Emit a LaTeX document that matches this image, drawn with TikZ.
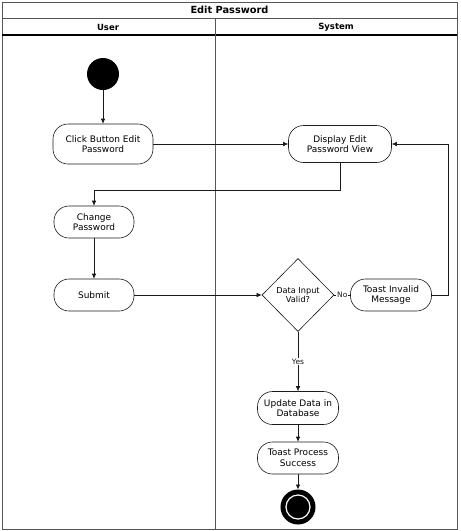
\documentclass[tikz,border=0pt]{standalone}
\usepackage{fontspec}
\setmainfont{DejaVu Sans}
\usetikzlibrary{arrows.meta, positioning, shapes.geometric}
\definecolor{uline}{HTML}{1A1A1A}
\definecolor{uframe}{HTML}{555555}
\tikzset{
  actbox/.style={draw=uline, fill=white, rounded corners=15pt, align=center,
                 font=\fontsize{9}{10.5}\selectfont, inner sep=1pt, line width=0.6pt},
  decision/.style={draw=uline, fill=white, diamond, aspect=1, align=center,
                   font=\fontsize{8.2}{9.5}\selectfont, inner sep=0pt, line width=0.6pt},
  startnode/.style={circle, fill=black, minimum size=32pt, inner sep=0pt},
  endnode/.style={circle, draw=black, fill=black, line width=2pt, minimum size=33pt, inner sep=0pt,
                  path picture={\draw[white, line width=1.2pt] (path picture bounding box.center) circle (12pt);}},
  titlehead/.style={font=\fontsize{9.8}{11}\selectfont\bfseries},
  lanehead/.style={font=\fontsize{8.5}{10}\selectfont\bfseries},
  guard/.style={font=\fontsize{7.5}{9}\selectfont, fill=white, inner sep=1pt},
  arr/.style={-{Latex[length=5pt,width=4.5pt]}, uline, line width=0.6pt},
  flow/.style={uline, line width=0.6pt},
}
\begin{document}
\begin{tikzpicture}[x=1pt, y=-1pt]
  \useasboundingbox (0,0) rectangle (461,531);
  %% Swimlane frame
  \draw[uframe, line width=0.6pt] (2,2) rectangle (457,529);
  \draw[uframe, line width=0.6pt] (2,18) -- (457,18);
  \draw[black, line width=1.2pt] (2,35) -- (457,35);
  \draw[uframe, line width=0.6pt] (215,18) -- (215,529);
  \node[titlehead] (title) at (229.5,10) {Edit Password};
  \node[lanehead] (user) at (108,27) {User};
  \node[lanehead] (sys) at (336,27) {System};

  %% User lane
  \node[startnode] (start) at (103,74) {};
  \node[actbox, minimum width=100pt, minimum height=40pt] (click) at (103,144) {Click Button Edit\\Password};
  \node[actbox, minimum width=80pt, minimum height=32pt] (change) at (94,222) {Change\\Password};
  \node[actbox, minimum width=80pt, minimum height=32pt] (submit) at (94,295) {Submit};

  %% System lane
  \node[actbox, minimum width=103pt, minimum height=37pt] (disp) at (340,144) {Display Edit\\Password View};
  \node[decision, minimum width=72pt, minimum height=73pt] (valid) at (298,295) {Data Input\\Valid?};
  \node[actbox, minimum width=81pt, minimum height=32pt] (toast) at (391,295) {Toast Invalid\\Message};
  \node[actbox, minimum width=81pt, minimum height=33pt] (update) at (298,408) {Update Data in\\Database};
  \node[actbox, minimum width=81pt, minimum height=32pt] (success) at (298,458) {Toast Process\\Success};
  \node[endnode] (end) at (298,507) {};

  %% Flows
  \draw[arr] (start) -- (click);
  \draw[arr] (click) -- (disp);
  \draw[arr] (disp.south) -- ++(0,27) -| (change.north);
  \draw[arr] (change) -- (submit);
  \draw[arr] (submit) -- (valid);
  \draw[flow] (valid.east) -- node[guard] {No} (toast.west);
  \draw[arr] (toast.east) -- ++(16,0) |- (disp.east);
  \draw[arr] (valid.south) -- node[guard] {Yes} (update.north);
  \draw[arr] (update) -- (success);
  \draw[arr] (success) -- (end);
\end{tikzpicture}
\end{document}
